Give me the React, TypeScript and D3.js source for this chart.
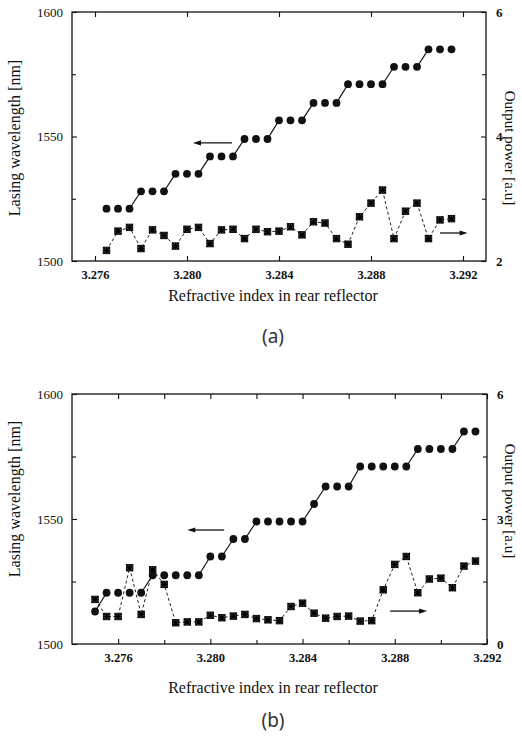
import React, { useEffect, useRef } from "react";
import * as d3 from "d3";

// panel (a)
const refIndexA = [
  3.2765, 3.277, 3.2775, 3.278, 3.2785, 3.279, 3.2795, 3.28, 3.2805, 3.281, 3.2815,
  3.282, 3.2825, 3.283, 3.2835, 3.284, 3.2845, 3.285, 3.2855, 3.286, 3.2865, 3.287,
  3.2875, 3.288, 3.2885, 3.289, 3.2895, 3.29, 3.2905, 3.291, 3.2915,
];
const wavelengthA = [
  1521, 1521, 1521, 1528, 1528, 1528, 1535, 1535, 1535, 1542, 1542, 1542, 1549, 1549,
  1549, 1556.5, 1556.5, 1556.5, 1563.5, 1563.5, 1563.5, 1571, 1571, 1571, 1571, 1578,
  1578, 1578, 1585, 1585, 1585,
];
const powerA = [
  2.17, 2.48, 2.54, 2.2, 2.5, 2.41, 2.24, 2.51, 2.54, 2.28, 2.5, 2.51, 2.36, 2.51, 2.47,
  2.48, 2.55, 2.42, 2.63, 2.61, 2.36, 2.27, 2.71, 2.93, 3.14, 2.36, 2.8, 2.93, 2.36,
  2.66, 2.68,
];

// panel (b)
const refIndexB = [
  3.275, 3.2755, 3.276, 3.2765, 3.277, 3.2775, 3.278, 3.2785, 3.279, 3.2795, 3.28,
  3.2805, 3.281, 3.2815, 3.282, 3.2825, 3.283, 3.2835, 3.284, 3.2845, 3.285, 3.2855,
  3.286, 3.2865, 3.287, 3.2875, 3.288, 3.2885, 3.289, 3.2895, 3.29, 3.2905, 3.291,
  3.2915,
];
const wavelengthB = [
  1513, 1520.5, 1520.5, 1520.5, 1520.5, 1527.5, 1527.5, 1527.5, 1527.5, 1527.5, 1535,
  1535, 1542, 1542, 1549, 1549, 1549, 1549, 1549, 1556, 1563, 1563, 1563, 1571, 1571,
  1571, 1571, 1571, 1578, 1578, 1578, 1578, 1585, 1585,
];
const powerB = [
  1.07, 0.66, 0.66, 1.83, 0.71, 1.78, 1.43, 0.51, 0.53, 0.53, 0.69, 0.63, 0.67, 0.71,
  0.61, 0.58, 0.56, 0.9, 0.98, 0.74, 0.62, 0.66, 0.67, 0.55, 0.56, 1.3, 1.91, 2.1, 1.23,
  1.56, 1.58, 1.35, 1.87, 1.99,
];

const xTicks = [3.276, 3.28, 3.284, 3.288, 3.292];
const xMinorTicksB = [3.278, 3.282, 3.286, 3.29];
const yLeftTicks = [1500, 1550, 1600];
const yLeftMinor = [1525, 1575];

const panels = [
  {
    name: "(a)",
    left: 72, right: 486, top: 12, bottom: 261,
    xDomain: [3.275, 3.293],
    xMinor: [] as number[],
    topMinor: false,
    rDomain: [2, 6], rTicks: [2, 4, 6], rMinor: [3, 5],
    refIndex: refIndexA, wavelength: wavelengthA, power: powerA,
    leftArrow: [3.28196, 3.28026, 1547.4],
    rightArrow: [3.291, 3.2922, 2.45],
    leftTitleY: 138, rightTitleY: 148,
    xTitleY: 301, nameY: 343,
  },
  {
    name: "(b)",
    left: 72, right: 487, top: 394, bottom: 644,
    xDomain: [3.274, 3.292],
    xMinor: xMinorTicksB,
    topMinor: true,
    rDomain: [0, 6], rTicks: [0, 3, 6], rMinor: [1.5, 4.5],
    refIndex: refIndexB, wavelength: wavelengthB, power: powerB,
    leftArrow: [3.2806, 3.279, 1545.6],
    rightArrow: [3.2878, 3.2894, 0.79],
    leftTitleY: 499, rightTitleY: 501,
    xTitleY: 693, nameY: 727,
  },
];

function drawArrow(g: any, x1: number, x2: number, y: number) {
  const dir = x2 > x1 ? 1 : -1;
  g.append("line")
    .attr("x1", x1).attr("y1", y)
    .attr("x2", x2 - dir * 6).attr("y2", y)
    .style("stroke", "#111").style("stroke-width", 1.3);
  g.append("path")
    .attr("d", `M${x2},${y} L${x2 - dir * 8},${y - 2.6} L${x2 - dir * 8},${y + 2.6} Z`)
    .attr("fill", "#111");
}

function drawPanel(svg: any, p: any) {
  const x = d3.scaleLinear().domain(p.xDomain).range([p.left, p.right]);
  const y = d3.scaleLinear().domain([1500, 1600]).range([p.bottom, p.top]);
  const r = d3.scaleLinear().domain(p.rDomain).range([p.bottom, p.top]);
  const h = p.bottom - p.top;
  const w = p.right - p.left;
  const serif = "'Liberation Serif', 'Times New Roman', serif";

  const g = svg.append("g");

  // frame
  g.append("rect")
    .attr("x", p.left).attr("y", p.top)
    .attr("width", w).attr("height", h)
    .attr("fill", "none").style("stroke", "#111").style("stroke-width", 1.3);

  // bottom axis (ticks pointing in)
  const xAxis = d3.axisBottom(x).tickValues(xTicks).tickSize(-5).tickPadding(9)
    .tickFormat(d3.format(".3f"));
  const gx = g.append("g").attr("transform", "translate(0," + p.bottom + ")").call(xAxis);
  gx.select(".domain").remove();
  gx.selectAll("text")
    .style("font-family", serif).style("font-size", "12.5px")
    .style("font-weight", "bold").attr("fill", "#111");
  if (p.xMinor.length) {
    g.append("g").attr("transform", "translate(0," + p.bottom + ")")
      .call(d3.axisBottom(x).tickValues(p.xMinor).tickSize(-4).tickFormat(() => ""))
      .select(".domain").remove();
  }

  // top ticks
  const topVals = p.topMinor ? xTicks.concat(p.xMinor) : xTicks;
  g.append("g").attr("transform", "translate(0," + p.top + ")")
    .call(d3.axisTop(x).tickValues(topVals).tickSize(-5).tickFormat(() => ""))
    .select(".domain").remove();

  // left axis
  const gy = g.append("g").attr("transform", "translate(" + p.left + ",0)")
    .call(d3.axisLeft(y).tickValues(yLeftTicks).tickSize(-5).tickPadding(9)
      .tickFormat(d3.format("d")));
  gy.select(".domain").remove();
  gy.selectAll("text")
    .style("font-family", serif).style("font-size", "13px").attr("fill", "#111");
  g.append("g").attr("transform", "translate(" + p.left + ",0)")
    .call(d3.axisLeft(y).tickValues(yLeftMinor).tickSize(-4).tickFormat(() => ""))
    .select(".domain").remove();

  // right axis
  const gr = g.append("g").attr("transform", "translate(" + p.right + ",0)")
    .call(d3.axisRight(r).tickValues(p.rTicks).tickSize(-5).tickPadding(10)
      .tickFormat(d3.format("d")));
  gr.select(".domain").remove();
  gr.selectAll("text")
    .style("font-family", serif).style("font-size", "13px")
    .style("font-weight", "bold").attr("fill", "#111");
  g.append("g").attr("transform", "translate(" + p.right + ",0)")
    .call(d3.axisRight(r).tickValues(p.rMinor).tickSize(-4).tickFormat(() => ""))
    .select(".domain").remove();

  g.selectAll(".tick line").style("stroke", "#111").style("stroke-width", 1.1);

  // power series: dashed line + asterisk markers
  const pts = p.refIndex.map((v: number, i: number) => [x(v), r(p.power[i])]);
  g.append("path")
    .datum(pts)
    .attr("fill", "none")
    .attr("stroke", "#222")
    .attr("stroke-width", 1)
    .attr("stroke-dasharray", "3,2.5")
    .attr("d", d3.line());
  const s = 3.2;
  pts.forEach((d: number[]) => {
    g.append("rect")
      .attr("x", d[0] - s).attr("y", d[1] - s)
      .attr("width", 2 * s).attr("height", 2 * s)
      .attr("fill", "#555").style("stroke", "#111").style("stroke-width", 1);
    g.append("path")
      .attr("d", `M${d[0] - s},${d[1] - s}L${d[0] + s},${d[1] + s}M${d[0] + s},${d[1] - s}L${d[0] - s},${d[1] + s}M${d[0]},${d[1] - s}L${d[0]},${d[1] + s}M${d[0] - s},${d[1]}L${d[0] + s},${d[1]}`)
      .style("stroke", "#000").style("stroke-width", 1.2);
  });

  // wavelength series: solid steps + filled circles
  const wl = p.refIndex.map((v: number, i: number) => [x(v), y(p.wavelength[i])]);
  for (let i = 1; i < wl.length; i++) {
    if (p.wavelength[i] !== p.wavelength[i - 1]) {
      g.append("line")
        .attr("x1", wl[i - 1][0]).attr("y1", wl[i - 1][1])
        .attr("x2", wl[i][0]).attr("y2", wl[i][1])
        .style("stroke", "#111").style("stroke-width", 1.2);
    }
  }
  g.selectAll(".dot")
    .data(wl)
    .enter()
    .append("circle")
    .attr("cx", (d: number[]) => d[0])
    .attr("cy", (d: number[]) => d[1])
    .attr("r", 3.9)
    .attr("fill", "#111");

  // arrows
  drawArrow(g, x(p.leftArrow[0]), x(p.leftArrow[1]), y(p.leftArrow[2]));
  drawArrow(g, x(p.rightArrow[0]), x(p.rightArrow[1]), r(p.rightArrow[2]));

  // titles
  g.append("text")
    .attr("transform", "translate(20," + p.leftTitleY + ") rotate(-90)")
    .style("text-anchor", "middle")
    .style("font-family", serif).style("font-size", "16px").attr("fill", "#111")
    .text("Lasing wavelength [nm]");
  g.append("text")
    .attr("transform", "translate(505," + p.rightTitleY + ") rotate(90)")
    .style("text-anchor", "middle")
    .style("font-family", serif).style("font-size", "15px").attr("fill", "#111")
    .text("Output power [a.u]");
  g.append("text")
    .attr("x", 273).attr("y", p.xTitleY)
    .style("text-anchor", "middle")
    .style("font-family", serif).style("font-size", "16px").attr("fill", "#111")
    .text("Refractive index in rear reflector");
  g.append("text")
    .attr("x", 273).attr("y", p.nameY)
    .style("text-anchor", "middle")
    .style("font-family", "'Noto Sans', 'DejaVu Sans', sans-serif")
    .style("font-size", "19px").attr("fill", "#333")
    .text(p.name);
}

export default function App() {
  const ref = useRef<SVGSVGElement>(null);

  useEffect(() => {
    const svg = d3.select(ref.current);
    svg.selectAll("*").remove();
    panels.forEach((p) => drawPanel(svg, p));
  }, []);

  return (
    <svg
      ref={ref}
      width={522}
      height={737}
      style={{ position: "absolute", left: 0, top: 0, background: "#fff" }}
    />
  );
}
